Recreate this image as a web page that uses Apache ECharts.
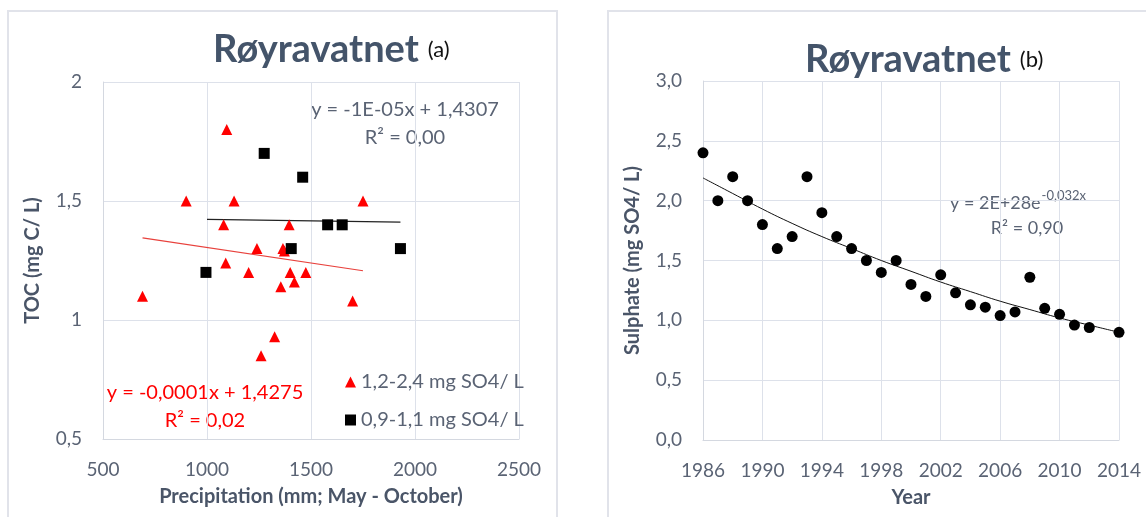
<!DOCTYPE html>
<html>
<head>
<meta charset="utf-8">
<script src="https://cdn.jsdelivr.net/npm/echarts@6/dist/echarts.min.js"></script>
<style>
html,body{margin:0;padding:0;background:#fff;}
#c{width:1146px;height:517px;}
</style>
</head>
<body>
<div id="c"></div>
<script>
// ---- Panel (a): TOC vs precipitation ----
const highSO4Precip = [690, 900, 1095, 1130, 1750, 1080, 1395, 1240, 1365, 1372, 1090, 1200, 1400, 1475, 1420, 1355, 1700, 1325, 1260];
const highSO4TOC    = [1.10, 1.50, 1.80, 1.50, 1.50, 1.40, 1.40, 1.30, 1.30, 1.29, 1.24, 1.20, 1.20, 1.20, 1.16, 1.14, 1.08, 0.93, 0.85];
const lowSO4Precip  = [1275, 1460, 1580, 1650, 1405, 1930, 995];
const lowSO4TOC     = [1.70, 1.60, 1.40, 1.40, 1.30, 1.30, 1.20];
const highTrendX = [690, 1750];
const highTrendY = [1.345, 1.207];
const lowTrendX  = [1000, 1930];
const lowTrendY  = [1.423, 1.411];
const legendNames = ['1,2-2,4 mg SO4/ L', '0,9-1,1 mg SO4/ L'];
const xTicksA = [500, 1000, 1500, 2000, 2500];
const yTicksA = [0.5, 1, 1.5, 2];

// ---- Panel (b): sulphate by year ----
const years    = [1986,1987,1988,1989,1990,1991,1992,1993,1994,1995,1996,1997,1998,1999,2000,2001,2002,2003,2004,2005,2006,2007,2008,2009,2010,2011,2012,2014];
const sulphate = [2.40,2.00,2.20,2.00,1.80,1.60,1.70,2.20,1.90,1.70,1.60,1.50,1.40,1.50,1.30,1.20,1.38,1.23,1.13,1.11,1.04,1.07,1.36,1.10,1.05,0.96,0.94,0.90];
const trendYears = [1986,1988,1990,1992,1994,1996,1998,2000,2002,2004,2006,2008,2010,2012,2014];
const trendSulph = [2.19,2.06,1.93,1.81,1.70,1.60,1.50,1.41,1.32,1.24,1.16,1.09,1.02,0.96,0.90];
const baseYear = 1986;

const FONT = 'Lato';
const AX = '#5a6374';
const TITLE = '#44546A';
const GRIDC = '#dde1ea';

function comma(v, d) { return (d === undefined ? String(v) : v.toFixed(d)).replace('.', ','); }
function zip(a, b) { return a.map((v, i) => [v, b[i]]); }
const mctx = document.createElement('canvas').getContext('2d');
function textW(t, font) { mctx.font = font; return mctx.measureText(t).width; }

const chart = echarts.init(document.getElementById('c'), null, {renderer: 'canvas'});

const axisCommon = {
  axisLine: {show: true, lineStyle: {color: '#d4d8e0', width: 1}},
  axisTick: {show: false},
  splitLine: {show: true, lineStyle: {color: GRIDC, width: 1}},
  axisLabel: {color: AX, fontFamily: FONT, fontSize: 19},
  nameLocation: 'middle',
  nameTextStyle: {color: '#4a5568', fontFamily: FONT, fontSize: 20, fontWeight: 'bold'}
};

const titleFont = 'bold 38px Lato';
const subFont = '22px Lato';
const titleW = textW('Røyravatnet', titleFont);
const eqFont = '18px Lato';
const eqMainW = textW('y = 2E+28e', eqFont);

const option = {
  animation: false,
  backgroundColor: '#fff',
  textStyle: {fontFamily: FONT},
  grid: [
    {left: 103, top: 82, width: 416, height: 357},
    {left: 703, top: 81, width: 416, height: 359}
  ],
  xAxis: [
    Object.assign({}, axisCommon, {
      gridIndex: 0, type: 'value', min: xTicksA[0], max: xTicksA[xTicksA.length-1], interval: 500,
      name: 'Precipitation (mm; May - October)', nameGap: 48,
      axisLabel: Object.assign({}, axisCommon.axisLabel, {margin: 21, formatter: v => String(v)})
    }),
    Object.assign({}, axisCommon, {
      gridIndex: 1, type: 'value', min: 0, max: years[years.length-1] - baseYear, interval: 4,
      name: 'Year', nameGap: 48,
      axisLabel: Object.assign({}, axisCommon.axisLabel, {margin: 21, formatter: v => String(v + baseYear)})
    })
  ],
  yAxis: [
    Object.assign({}, axisCommon, {
      gridIndex: 0, type: 'value', min: yTicksA[0], max: yTicksA[yTicksA.length-1], interval: 0.5,
      name: 'TOC (mg C/ L)', nameGap: 60,
      axisLabel: Object.assign({}, axisCommon.axisLabel, {margin: 21, formatter: v => comma(v)})
    }),
    Object.assign({}, axisCommon, {
      gridIndex: 1, type: 'value', min: 0, max: 3, interval: 0.5,
      name: 'Sulphate (mg SO4/ L)', nameGap: 60,
      axisLabel: Object.assign({}, axisCommon.axisLabel, {margin: 21, formatter: v => comma(v, 1)})
    })
  ],
  legend: {
    orient: 'vertical', left: 340, top: 367, itemGap: 18, itemWidth: 11, itemHeight: 11,
    textStyle: {color: AX, fontFamily: FONT, fontSize: 20},
    data: legendNames
  },
  series: [
    {name: legendNames[0], type: 'scatter', xAxisIndex: 0, yAxisIndex: 0, symbol: 'triangle', symbolSize: 11,
     itemStyle: {color: '#ff0000', opacity: 1}, data: zip(highSO4Precip, highSO4TOC), z: 5},
    {name: legendNames[1], type: 'scatter', xAxisIndex: 0, yAxisIndex: 0, symbol: 'rect', symbolSize: 11,
     itemStyle: {color: '#000', opacity: 1}, data: zip(lowSO4Precip, lowSO4TOC), z: 5},
    {type: 'line', xAxisIndex: 0, yAxisIndex: 0, showSymbol: false, symbol: 'none',
     lineStyle: {color: '#e8413c', width: 1.2}, data: zip(highTrendX, highTrendY), z: 3},
    {type: 'line', xAxisIndex: 0, yAxisIndex: 0, showSymbol: false, symbol: 'none',
     lineStyle: {color: '#222', width: 1.2}, data: zip(lowTrendX, lowTrendY), z: 3},
    {type: 'scatter', xAxisIndex: 1, yAxisIndex: 1, symbol: 'circle', symbolSize: 11,
     itemStyle: {color: '#000', opacity: 1}, data: years.map((y, i) => [y - baseYear, sulphate[i]]), z: 5},
    {type: 'line', xAxisIndex: 1, yAxisIndex: 1, showSymbol: false, symbol: 'none', smooth: true,
     lineStyle: {color: '#111', width: 1}, data: trendYears.map((y, i) => [y - baseYear, trendSulph[i]]), z: 3}
  ],
  graphic: [
    {type: 'rect', shape: {x: 8, y: 11, width: 549, height: 530}, style: {fill: 'none', stroke: '#e1e3ea', lineWidth: 2}, silent: true, z: -10},
    {type: 'rect', shape: {x: 608, y: 11, width: 560, height: 530}, style: {fill: 'none', stroke: '#e1e3ea', lineWidth: 2}, silent: true, z: -10},
    {type: 'text', x: 213, y: 50, style: {text: 'Røyravatnet', font: titleFont, fill: TITLE, verticalAlign: 'middle'}},
    {type: 'text', x: 213 + titleW + 9, y: 50, style: {text: '(a)', font: subFont, fill: '#111', verticalAlign: 'middle'}},
    {type: 'text', x: 805, y: 60, style: {text: 'Røyravatnet', font: titleFont, fill: TITLE, verticalAlign: 'middle'}},
    {type: 'text', x: 805 + titleW + 9, y: 60, style: {text: '(b)', font: subFont, fill: '#111', verticalAlign: 'middle'}},
    // trend equations
    {type: 'text', x: 405, y: 110, style: {text: 'y = -1E-05x + 1,4307', font: '20px Lato', fill: AX, align: 'center', verticalAlign: 'middle'}},
    {type: 'text', x: 405, y: 138, style: {text: 'R² = 0,00', font: '20px Lato', fill: AX, align: 'center', verticalAlign: 'middle'}},
    {type: 'text', x: 205, y: 393, style: {text: 'y = -0,0001x + 1,4275', font: '20px Lato', fill: '#ff0000', align: 'center', verticalAlign: 'middle'}},
    {type: 'text', x: 205, y: 421, style: {text: 'R² = 0,02', font: '20px Lato', fill: '#ff0000', align: 'center', verticalAlign: 'middle'}},
    {type: 'text', x: 950, y: 203, style: {text: 'y = 2E+28e', font: eqFont, fill: AX, align: 'left', verticalAlign: 'middle'}},
    {type: 'text', x: 950 + eqMainW + 1, y: 196, style: {text: '-0,032x', font: '13px Lato', fill: AX, align: 'left', verticalAlign: 'middle'}},
    {type: 'text', x: 1027, y: 228, style: {text: 'R² = 0,90', font: eqFont, fill: AX, align: 'center', verticalAlign: 'middle'}}
  ]
};
chart.setOption(option);
</script>
</body>
</html>
